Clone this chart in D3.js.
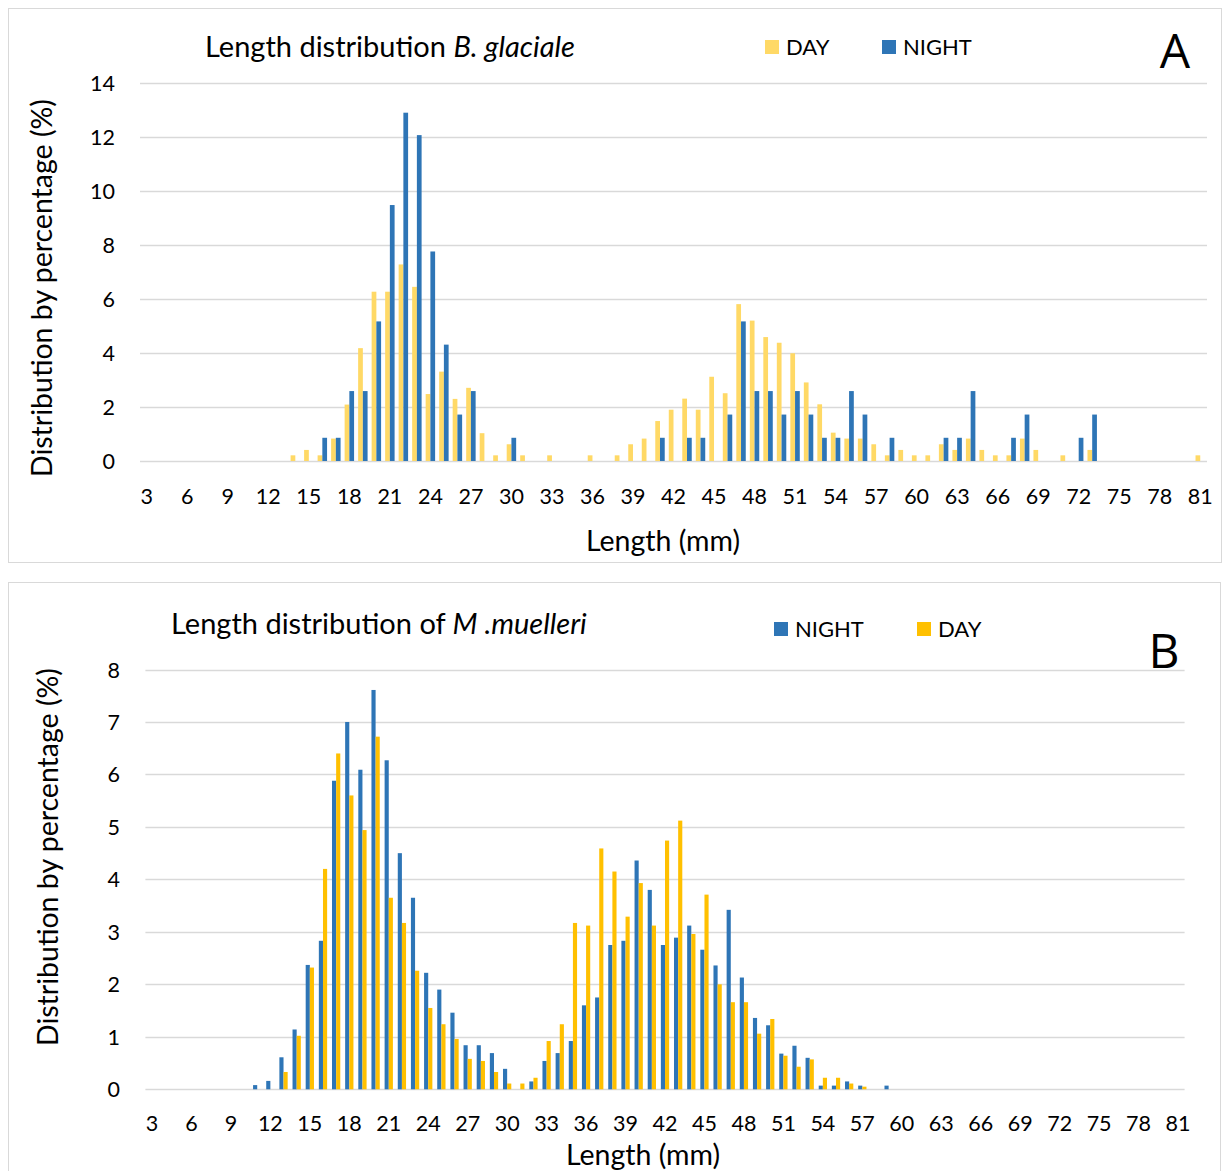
<!DOCTYPE html>
<html><head><meta charset="utf-8">
<script src="https://cdn.jsdelivr.net/npm/d3@7"></script>
<style>
html,body{margin:0;padding:0;background:#fff;}
svg{display:block;font-family:Lato,"Open Sans",sans-serif;}
</style></head>
<body>
<svg id="chart" width="1224" height="1171"></svg>
<script>
// ---------- DATA ----------
const lengths = d3.range(3, 82); // length classes 3..81 mm
const tickLabels = [3,6,9,12,15,18,21,24,27,30,33,36,39,42,45,48,51,54,57,60,63,66,69,72,75,78,81];

// Panel A: B. glaciale  (values indexed from length 3 to 81)
const glacialeDay = [
 0,0,0,0,0,0,0,0,0,0,0,            // 3-13
 0.21,0.41,0.21,0.83,2.09,4.18,6.27,6.27,7.28,6.45, // 14-23
 2.48,3.31,2.30,2.71,1.03,0.21,0.62,0.21,0,0.21,    // 24-33
 0,0,0.21,0,0.21,0.62,0.83,1.48,1.90,2.31,          // 34-43
 1.90,3.12,2.51,5.81,5.20,4.59,4.38,3.99,2.91,2.10, // 44-53
 1.05,0.83,0.83,0.62,0.21,0.41,0.21,0.21,0.62,0.41, // 54-63
 0.83,0.41,0.21,0.21,0.83,0.41,0,0.21,0,0.41,       // 64-73
 0,0,0,0,0,0,0,0.21                                 // 74-81
];
const glacialeNight = [
 0,0,0,0,0,0,0,0,0,0,0,            // 3-13
 0,0,0.86,0.86,2.59,2.59,5.17,9.48,12.9,12.07,      // 14-23
 7.76,4.31,1.72,2.59,0,0,0.86,0,0,0,                // 24-33
 0,0,0,0,0,0,0,0.86,0,0.86,                         // 34-43
 0.86,0,1.72,5.17,2.59,2.59,1.72,2.59,1.72,0.86,    // 44-53
 0.86,2.59,1.72,0,0.86,0,0,0,0.86,0.86,             // 54-63
 2.59,0,0,0.86,1.72,0,0,0,0.86,1.72,                // 64-73
 0,0,0,0,0,0,0,0                                    // 74-81
];

// Panel B: M. muelleri
const muelleriNight = [
 0,0,0,0,0,0,0,0,                  // 3-10
 0.08,0.16,0.61,1.14,2.37,2.83,5.88,7.00,6.09,7.61, // 11-20
 6.27,4.50,3.65,2.22,1.90,1.46,0.84,0.84,0.69,0.39, // 21-30
 0,0.15,0.54,0.69,0.92,1.60,1.75,2.75,2.83,4.36,    // 31-40
 3.80,2.75,2.89,3.12,2.66,2.36,3.42,2.13,1.36,1.22, // 41-50
 0.68,0.83,0.60,0.07,0.07,0.15,0.07,0,0.07,0,       // 51-60
 0,0,0,0,0,0,0,0,0,0,                               // 61-70
 0,0,0,0,0,0,0,0,0,0,0                              // 71-81
];
const muelleriDay = [
 0,0,0,0,0,0,0,0,                  // 3-10
 0,0,0.33,1.02,2.32,4.20,6.40,5.60,4.94,6.72,       // 11-20
 3.65,3.17,2.26,1.55,1.24,0.96,0.58,0.54,0.33,0.11, // 21-30
 0.11,0.22,0.92,1.24,3.17,3.12,4.59,4.15,3.29,3.93, // 31-40
 3.12,4.74,5.12,2.96,3.71,2.00,1.66,1.66,1.06,1.34, // 41-50
 0.64,0.43,0.57,0.22,0.22,0.11,0.05,0,0,0,          // 51-60
 0,0,0,0,0,0,0,0,0,0,                               // 61-70
 0,0,0,0,0,0,0,0,0,0,0                              // 71-81
];
const yTicksA = [0,2,4,6,8,10,12,14];
const yTicksB = [0,1,2,3,4,5,6,7,8];

// ---------- DRAW ----------
const svg = d3.select("#chart");
const GRID = "#d9d9d9", BLUE = "#2e75b6";

function panel(cfg){
  const g = svg.append("g");
  // frame
  g.append("rect").attr("x",cfg.frame[0]+0.5).attr("y",cfg.frame[1]+0.5)
   .attr("width",cfg.frame[2]).attr("height",cfg.frame[3])
   .attr("fill","none").attr("stroke",GRID).attr("stroke-width",1);

  const x = d3.scaleBand().domain(lengths).range(cfg.xr).paddingInner(cfg.pad).paddingOuter(cfg.pad/2);
  const sub = d3.scaleBand().domain(cfg.series.map(s=>s.name)).range([0,x.bandwidth()]);
  const y = d3.scaleLinear().domain([0,cfg.ymax]).range(cfg.yr);

  // gridlines
  g.append("g").selectAll("line").data(cfg.yticks).join("line")
   .attr("x1",cfg.xr[0]).attr("x2",cfg.xr[1])
   .attr("y1",d=>Math.round(y(d))+0.5).attr("y2",d=>Math.round(y(d))+0.5)
   .attr("stroke",GRID).attr("stroke-width",1.3);

  // y axis labels
  const ya = g.append("g").attr("transform",`translate(${cfg.ylabX},0)`)
   .call(d3.axisLeft(y).tickValues(cfg.yticks).tickSize(0).tickPadding(0));
  ya.select(".domain").remove();
  ya.selectAll("text").attr("font-size",cfg.tickFs).attr("fill","#000").attr("font-family","Lato").attr("dy","0.35em");

  // x axis labels
  const xa = g.append("g").attr("transform",`translate(0,${cfg.xlabY})`)
   .call(d3.axisBottom(x).tickValues(tickLabels).tickSize(0).tickPadding(0));
  xa.select(".domain").remove();
  xa.selectAll("text").attr("font-size",cfg.tickFs).attr("fill","#000").attr("font-family","Lato").attr("dy","0.35em");

  // bars
  cfg.series.forEach(s=>{
    g.append("g").selectAll("rect").data(lengths.map((L,i)=>({L,v:s.values[i]})).filter(d=>d.v>0)).join("rect")
     .attr("x",d=>x(d.L)+sub(s.name))
     .attr("width",sub.bandwidth())
     .attr("y",d=>y(d.v))
     .attr("height",d=>y(0)-y(d.v))
     .attr("fill",s.color);
  });

  // title
  const t = g.append("text").attr("x",cfg.title.x).attr("y",cfg.title.y)
   .attr("font-size",cfg.titleFs).attr("fill","#000");
  t.append("tspan").text(cfg.title.plain);
  t.append("tspan").attr("font-style","italic").text(cfg.title.italic);

  // legend
  cfg.legend.forEach(l=>{
    g.append("rect").attr("x",l.x).attr("y",l.y-7).attr("width",14).attr("height",14).attr("fill",l.color);
    g.append("text").attr("x",l.x+21).attr("y",l.y).attr("dy","0.35em")
     .attr("font-size",cfg.legFs).attr("fill","#000").text(l.name);
  });

  // panel letter
  g.append("text").attr("x",cfg.letter.x).attr("y",cfg.letter.y).attr("text-anchor","middle")
   .attr("font-size",48).attr("fill","#000").attr("font-family","'Open Sans',Lato").text(cfg.letter.t);

  // axis titles
  g.append("text").attr("transform",`translate(${cfg.ytitle[0]},${cfg.ytitle[1]}) rotate(-90)`)
   .attr("text-anchor","middle").attr("dy","0.35em").attr("font-size",cfg.axFs).attr("fill","#000")
   .text("Distribution by percentage (%)");
  g.append("text").attr("x",cfg.xtitle[0]).attr("y",cfg.xtitle[1]).attr("text-anchor","middle")
   .attr("dy","0.35em").attr("font-size",cfg.axFs).attr("fill","#000").text("Length (mm)");
}

panel({
  frame:[8,8,1213,554],
  xr:[140,1207], pad:0.3, yr:[461,83], ymax:14, yticks:yTicksA,
  ylabX:115, xlabY:496, tickFs:21.5, titleFs:29, legFs:22, axFs:28.5,
  series:[{name:"DAY",values:glacialeDay,color:"#ffd966"},{name:"NIGHT",values:glacialeNight,color:BLUE}],
  title:{x:205,y:57,plain:"Length distribution ",italic:"B. glaciale"},
  legend:[{x:765,y:47,name:"DAY",color:"#ffd966"},{x:882,y:47,name:"NIGHT",color:BLUE}],
  letter:{x:1175,y:68,t:"A"},
  ytitle:[42,288], xtitle:[663,541]
});

panel({
  frame:[8,582,1212,600],
  xr:[145.4,1184.6], pad:0.37, yr:[1089.3,669.5], ymax:8, yticks:yTicksB,
  ylabX:120, xlabY:1123, tickFs:21.5, titleFs:29, legFs:22, axFs:28.5,
  series:[{name:"NIGHT",values:muelleriNight,color:BLUE},{name:"DAY",values:muelleriDay,color:"#ffc000"}],
  title:{x:171,y:634,plain:"Length distribution of ",italic:"M .muelleri"},
  legend:[{x:774,y:629,name:"NIGHT",color:BLUE},{x:917,y:629,name:"DAY",color:"#ffc000"}],
  letter:{x:1164,y:668,t:"B"},
  ytitle:[48,857], xtitle:[643,1155]
});
</script>
</body></html>
